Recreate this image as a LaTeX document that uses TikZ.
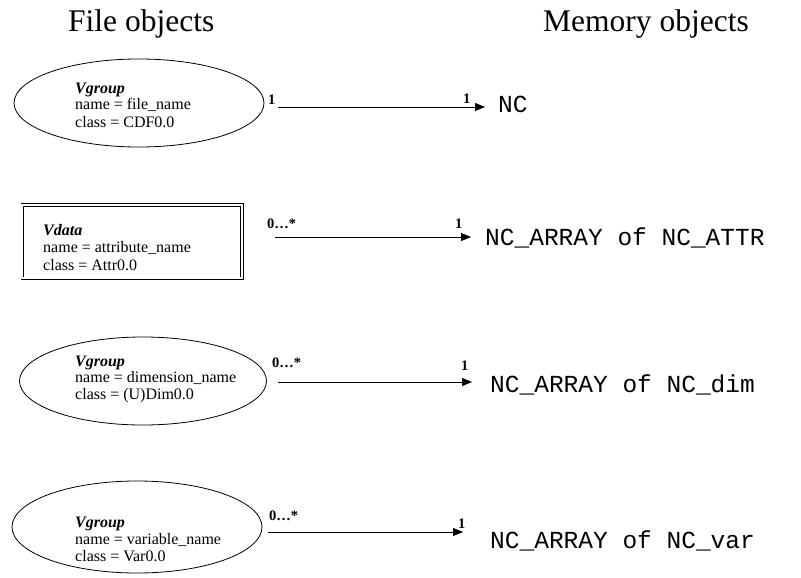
\documentclass[tikz,border=0pt]{standalone}
\usepackage{fontspec}
\setmainfont{Liberation Serif}
\newfontfamily\monofam{Liberation Mono}
\usetikzlibrary{shapes.geometric,arrows.meta}
\newcommand\threelines[4]{\vtop{\baselineskip=#1\lineskiplimit=-10pt\hbox{#2}\hbox{#3}\hbox{#4}}}
\begin{document}
\begin{tikzpicture}[x=1pt,y=-1pt,
  title/.style={font=\fontsize{31.5}{36}\selectfont, anchor=base west, inner sep=0pt},
  ftext/.style={font=\fontsize{16}{17}\selectfont, anchor=base west, inner sep=0pt},
  fileobj/.style={draw, ellipse, line width=0.8pt, inner sep=0pt},
  vdatabox/.style={draw, double, double distance=2pt, line width=0.7pt, rectangle, inner sep=0pt},
  mult/.style={font=\bfseries\fontsize{14.5}{16}\selectfont, anchor=base west, inner sep=0pt},
  memt/.style={font=\monofam\fontsize{24.5}{28}\selectfont, anchor=base west, inner sep=0pt},
  conn/.style={-{Triangle[length=10pt,width=8pt]}, line width=0.8pt}]
\useasboundingbox (0,0) rectangle (801,578);
\clip (0,0) rectangle (801,578);

% titles
\node[title] (tf) at (68,32) {File objects};
\node[title] (tm) at (543,32) {Memory objects};

% file objects
\node[fileobj, minimum width=250pt, minimum height=88pt] (e1) at (139,103) {};
\node[ftext] (e1t) at (75,93) {\threelines{17pt}{\textbf{\textit{Vgroup}}}{name = file\_name}{class = CDF0.0}};

\node[vdatabox, minimum width=219.7pt, minimum height=73.5pt] (r2) at (132.2,241.7) {};
\node[ftext] (r2t) at (43,235) {\threelines{17.5pt}{\textbf{\textit{Vdata}}}{name = attribute\_name}{class = Attr0.0}};

\node[fileobj, minimum width=247pt, minimum height=88pt] (e3) at (143,381) {};
\node[ftext] (e3t) at (75,366) {\threelines{16.5pt}{\textbf{\textit{Vgroup}}}{name = dimension\_name}{class = (U)Dim0.0}};

\node[fileobj, minimum width=250pt, minimum height=92pt] (e4) at (137,527) {};
\node[ftext] (e4t) at (75,527) {\threelines{17pt}{\textbf{\textit{Vgroup}}}{name = variable\_name}{class = Var0.0}};

% memory objects
\node[memt] (t1) at (498,112) {NC};
\node[memt] (t2) at (485,245) {NC\_ARRAY of NC\_ATTR};
\node[memt] (t3) at (490,392) {NC\_ARRAY of NC\_dim};
\node[memt] (t4) at (490,548) {NC\_ARRAY of NC\_var};

% connectors
\coordinate (s1) at (278,107);
\coordinate (s2) at (275,237);
\coordinate (s3) at (278,382);
\coordinate (s4) at (268,532);
\draw[conn, shorten >=13pt] (s1) -- (s1 -| t1.west);
\draw[conn, shorten >=14pt] (s2) -- (s2 -| t2.west);
\draw[conn, shorten >=18pt] (s3) -- (s3 -| t3.west);
\draw[conn, shorten >=27pt] (s4) -- (s4 -| t4.west);

% multiplicities
\node[mult] (m1a) at (268,105) {1};
\node[mult] (m1b) at (463,103) {1};
\node[mult] (m2a) at (267,228) {0…*};
\node[mult] (m2b) at (455,228) {1};
\node[mult] (m3a) at (272,367) {0…*};
\node[mult] (m3b) at (461,370) {1};
\node[mult] (m4a) at (269,520) {0…*};
\node[mult] (m4b) at (458,528) {1};
\end{tikzpicture}
\end{document}
